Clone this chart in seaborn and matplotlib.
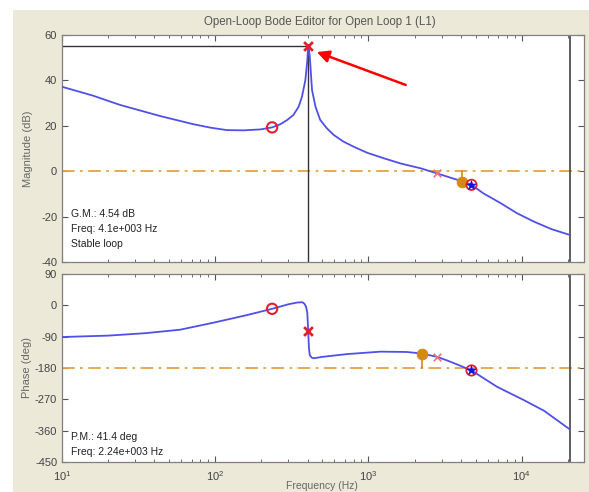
import numpy as np
import pandas as pd
import matplotlib
matplotlib.use("Agg")
import matplotlib.pyplot as plt
from matplotlib.patches import Rectangle
from matplotlib.ticker import LogLocator, NullFormatter
import seaborn as sns

# ---------------- data ----------------
mag_freq = [10, 15.9, 23.9, 43.7, 72, 92.8, 119, 153, 197, 235, 266, 294, 324, 350,
            368, 387, 398, 404, 410, 414, 428, 451, 484, 535, 592, 688, 800, 982,
            1259, 1620, 2185, 2810, 4100, 4700, 5600, 7300, 9300, 12000, 15600, 20400]
mag_db = [37.2, 33.3, 29.2, 24.3, 20.7, 19.2, 18.1, 18.0, 18.4, 19.3, 20.7, 22.5, 24.8,
          28.4, 32.8, 40, 48, 55, 53, 50.4, 35.8, 28.4, 22.6, 18.9, 16, 13.0, 10.8, 8.1,
          5.7, 3.4, 1.3, -1.0, -4.5, -6.0, -9.7, -14.1, -18.5, -22.2, -25.5, -28.0]

ph_freq = [10, 20, 35, 59, 97, 161, 235, 300, 342, 370, 383, 392, 399, 404, 409, 414,
           425, 440, 500, 728, 1200, 1780, 2240, 2800, 3200, 3800, 4700, 6900, 10300,
           14000, 20400]
ph_deg = [-91, -87, -80, -70, -50, -28, -10, 3, 8, 9, 4, -5, -23, -73, -125, -143,
          -150, -152, -148, -140, -133, -134, -138.6, -148, -157, -170, -187, -234,
          -272, -303, -355]

# markers
zero_freq, zero_mag, zero_ph = 235, 19.3, -10
pole_freq, pole_mag, pole_ph = 404, 55.2, -73
pole2_freq, pole2_mag, pole2_ph = 2800, -1.0, -148
gm_freq, gm_db = 4100, -4.54
pm_freq, pm_deg = 2240, -138.6
cl_freq, cl_mag, cl_ph = 4700, -6.0, -187
nyq_freq = 20600

mag_ticks = [60, 40, 20, 0, -20, -40]
ph_ticks = [90, 0, -90, -180, -270, -360, -450]

title = "Open-Loop Bode Editor for Open Loop 1 (L1)"
gm_text = ["G.M.: 4.54 dB", "Freq: 4.1e+003 Hz", "Stable loop"]
pm_text = ["P.M.: 41.4 deg", "Freq: 2.24e+003 Hz"]

# ---------------- style ----------------
sns.set_style("ticks")
plt.rcParams["font.family"] = ["Liberation Sans", "DejaVu Sans"]
plt.rcParams["mathtext.fontset"] = "custom"
plt.rcParams["mathtext.rm"] = "Liberation Sans"
plt.rcParams["axes.unicode_minus"] = False

W, H = 589, 492
fig = plt.figure(figsize=(W / 100, H / 100), dpi=100, facecolor="white")
beige = "#ECE9D8"
fig.patches.append(Rectangle((13 / W, 0), 1, 1 - 10 / H, transform=fig.transFigure,
                             facecolor=beige, edgecolor="none", zorder=-10))


def fx(px):
    return px / W


def fy(py):
    return 1 - py / H


ax1 = fig.add_axes([fx(62), fy(262), fx(583.5) - fx(62), fy(35) - fy(262)])
ax2 = fig.add_axes([fx(62), fy(462), fx(583.5) - fx(62), fy(274) - fy(462)])

xmin, xmax = 10, 10 ** 4.403
blue = "#5050E8"
orange_line = "#E3A545"
orange_dot = "#D48A12"
gray = "#555555"

df_mag = pd.DataFrame({"f": mag_freq, "v": mag_db})
df_ph = pd.DataFrame({"f": ph_freq, "v": ph_deg})

for ax, df, ylim, ticks in [(ax1, df_mag, (-40, 60), mag_ticks),
                             (ax2, df_ph, (-450, 90), ph_ticks)]:
    ax.set_facecolor("white")
    ax.set_xscale("log")
    ax.set_xlim(xmin, xmax)
    ax.set_ylim(*ylim)
    ax.set_yticks(ticks)
    sns.lineplot(data=df, x="f", y="v", ax=ax, color=blue, lw=1.3, sort=False,
                 estimator=None, zorder=3)
    ax.axvline(nyq_freq, color="#444444", lw=1.2, zorder=2)
    ax.xaxis.set_major_locator(LogLocator(base=10, numticks=10))
    ax.xaxis.set_minor_locator(LogLocator(base=10, subs=np.arange(2, 10), numticks=20))
    ax.xaxis.set_minor_formatter(NullFormatter())
    ax.tick_params(which="both", direction="in", top=True, right=True, colors=gray,
                   labelcolor="#444444", labelsize=8)
    ax.tick_params(which="major", length=4)
    ax.tick_params(which="minor", length=2.5)
    for s in ax.spines.values():
        s.set_visible(True)
        s.set_color("#808080")
        s.set_linewidth(0.9)
    ax.set_xlabel("")
    ax.grid(False)

# reference lines
ax1.axhline(0, color=orange_line, lw=1.3, ls=(0, (7, 3, 1.5, 3)), zorder=1)
ax2.axhline(-180, color=orange_line, lw=1.3, ls=(0, (7, 3, 1.5, 3)), zorder=1)

# peak cross-hair lines
ax1.plot([xmin, pole_freq], [pole_mag, pole_mag], color="#333333", lw=1.0, zorder=2)
ax1.plot([pole_freq, pole_freq], [pole_mag, -40], color="#333333", lw=1.0, zorder=2)

# magnitude markers
sns.scatterplot(x=[zero_freq], y=[zero_mag], ax=ax1, marker="o", s=55,
                facecolor="none", edgecolor="#E02030", linewidth=1.5, zorder=5)
sns.scatterplot(x=[pole_freq], y=[pole_mag], ax=ax1, marker="x", s=40,
                color="#E02030", linewidth=2.0, zorder=5)
sns.scatterplot(x=[pole2_freq], y=[pole2_mag], ax=ax1, marker="x", s=30,
                color="#F07080", linewidth=1.2, zorder=5)
ax1.plot([gm_freq, gm_freq], [0, gm_db], color=orange_dot, lw=1.2, zorder=4)
sns.scatterplot(x=[gm_freq], y=[gm_db], ax=ax1, marker="o", s=60,
                color=orange_dot, edgecolor=orange_dot, zorder=5)
sns.scatterplot(x=[cl_freq], y=[cl_mag], ax=ax1, marker="o", s=55,
                facecolor="none", edgecolor="#E02030", linewidth=1.3, zorder=6)
sns.scatterplot(x=[cl_freq], y=[cl_mag], ax=ax1, marker="*", s=45,
                color="#1010E0", edgecolor="#1010E0", zorder=7)

# phase markers
sns.scatterplot(x=[zero_freq], y=[zero_ph], ax=ax2, marker="o", s=55,
                facecolor="none", edgecolor="#E02030", linewidth=1.5, zorder=5)
sns.scatterplot(x=[pole_freq], y=[pole_ph], ax=ax2, marker="x", s=40,
                color="#E02030", linewidth=2.0, zorder=5)
sns.scatterplot(x=[pole2_freq], y=[pole2_ph], ax=ax2, marker="x", s=30,
                color="#F07080", linewidth=1.2, zorder=5)
ax2.plot([pm_freq, pm_freq], [-180, pm_deg], color=orange_dot, lw=1.2, zorder=4)
sns.scatterplot(x=[pm_freq], y=[pm_deg], ax=ax2, marker="o", s=60,
                color=orange_dot, edgecolor=orange_dot, zorder=5)
sns.scatterplot(x=[cl_freq], y=[cl_ph], ax=ax2, marker="o", s=55,
                facecolor="none", edgecolor="#E02030", linewidth=1.3, zorder=6)
sns.scatterplot(x=[cl_freq], y=[cl_ph], ax=ax2, marker="*", s=45,
                color="#1010E0", edgecolor="#1010E0", zorder=7)

# axis labels
ax1.tick_params(axis="x", labelbottom=False)
ax1.set_ylabel("Magnitude (dB)", color="#666666", fontsize=8, labelpad=6)
ax2.set_ylabel("Phase (deg)", color="#666666", fontsize=8, labelpad=2)
ax2.set_xlabel("")
ax2.tick_params(axis="x", pad=5)
fig.align_ylabels([ax1, ax2])
fig.text(fx(322), fy(491), "Frequency (Hz)", ha="center", va="bottom",
         fontsize=7.5, color="#666666")

# margin texts
for i, t in enumerate(gm_text):
    fig.text(fx(71), fy(214 + 15 * i), t, fontsize=7.5, color="#222222",
             va="center", ha="left")
for i, t in enumerate(pm_text):
    fig.text(fx(71), fy(437 + 15 * i), t, fontsize=7.5, color="#222222",
             va="center", ha="left")

# red arrow annotation
ax1.annotate("", xy=(460, 52.5), xytext=(1750, 38),
             arrowprops=dict(arrowstyle="-|>", color="red", lw=1.8,
                             mutation_scale=18, shrinkA=0, shrinkB=0), zorder=8)

fig.text(fx(320), fy(22), title, ha="center", va="center", fontsize=8.3, color="#555555")

fig.savefig("out.png", dpi=100, facecolor=fig.get_facecolor())
